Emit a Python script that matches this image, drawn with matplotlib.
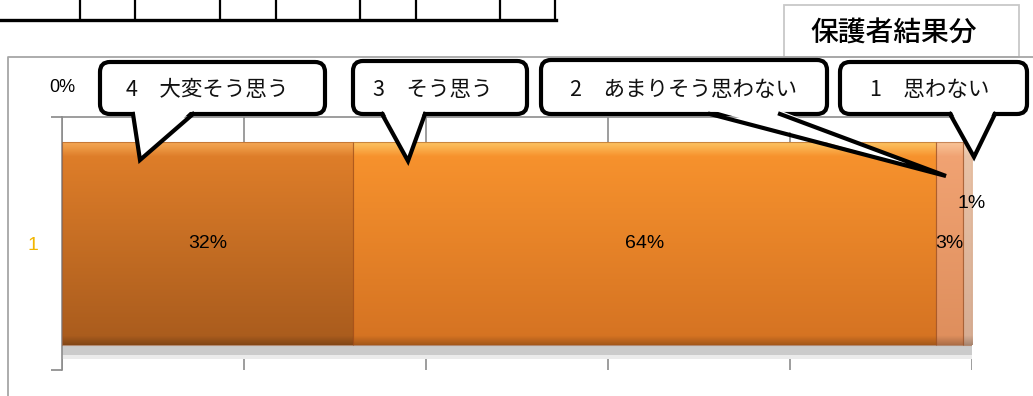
import numpy as np
import matplotlib
matplotlib.use("Agg")
import matplotlib.pyplot as plt
from matplotlib.patches import FancyBboxPatch, Rectangle, Polygon
from matplotlib.lines import Line2D
from matplotlib.colors import to_rgb

# ---------------- data ----------------
title = "保護者結果分"
category = ["1"]
series_names = ["4　大変そう思う", "3　そう思う", "2　あまりそう思わない", "1　思わない"]
values = [32, 64, 3, 1]
value_labels = ["32%", "64%", "3%", "1%"]
x_ticks = [0, 20, 40, 60, 80, 100]
x_tick_labels = ["0%", "20%", "40%", "60%", "80%", "100%"]

# gradient colours per segment: (highlight, top, bottom)
seg_colors = [
    ("#F4A855", "#E2802A", "#A85B1D"),
    ("#FCC463", "#F9942E", "#D47222"),
    ("#F8C498", "#F2A474", "#DE8E5C"),
    ("#F4D8C0", "#EAC4A8", "#D6AC92"),
]

W, H = 1033, 396
fig = plt.figure(figsize=(W / 100, H / 100), dpi=100)
fig.patch.set_facecolor("white")

num_font = ["Liberation Sans", "DejaVu Sans"]
jp_font = ["Noto Sans CJK JP", "DejaVu Sans"]

# ---------------- main chart axes ----------------
left_px, right_px, top_px, bot_px = 62, 972, 117, 370
ax = fig.add_axes([left_px / W, 1 - bot_px / H,
                   (right_px - left_px) / W, (bot_px - top_px) / H])
ax.set_facecolor("none")

bars = ax.barh([0], [values[0]], left=[0], height=0.8, color=seg_colors[0][1],
               edgecolor="none", zorder=2)
patches = list(bars)
cum = values[0]
for v, c in zip(values[1:], seg_colors[1:]):
    b = ax.barh([0], [v], left=[cum], height=0.8, color=c[1], edgecolor="none", zorder=2)
    patches.extend(list(b))
    cum += v

# gradient fills clipped to bars
for p, (hi, top, bot) in zip(patches, seg_colors):
    x0, y0 = p.get_x(), p.get_y()
    w, h = p.get_width(), p.get_height()
    n = 300
    t = np.linspace(0, 1, n)[:, None]
    ctop, cbot, chi = np.array(to_rgb(top)), np.array(to_rgb(bot)), np.array(to_rgb(hi))
    col = ctop[None, :] * (1 - t) + cbot[None, :] * t
    hl = np.clip(1 - t / 0.07, 0, 1)
    col = col * (1 - hl) + chi[None, :] * hl
    dark = np.clip((t - 0.955) / 0.045, 0, 1)
    col = col * (1 - 0.22 * dark)
    img = np.repeat(col[:, None, :], 20, axis=1)
    im = ax.imshow(img, extent=[x0, x0 + w, y0, y0 + h], origin="upper",
                   aspect="auto", zorder=2.5, interpolation="bilinear")
    im.set_clip_path(p)
    ax.add_patch(Rectangle((x0, y0), w, h, fill=False, edgecolor="#9A4A1A",
                           linewidth=0.8, alpha=0.5, zorder=2.6))

# shadow below bars
ax.add_patch(Rectangle((0, -0.44), 100, 0.04, facecolor="#CBCBCB", edgecolor="none", zorder=1.5))
ax.add_patch(Rectangle((0, -0.455), 100, 0.015, facecolor="#EBEBEB", edgecolor="none", zorder=1.5))

ax.set_xlim(0, 100)
ax.set_ylim(-0.5, 0.5)
ax.set_xticks(x_ticks)
# only the first top label is visible in the reference (the rest sit under the callouts)
shown = [lab if i == 0 else "" for i, lab in enumerate(x_tick_labels)]
ax.set_xticklabels(shown, fontsize=13, family=num_font)
ax.tick_params(axis="x", top=True, bottom=False, labeltop=True, labelbottom=False,
               length=0, pad=15)
ax.set_yticks([0])
ax.set_yticklabels(category, fontsize=14, color="#F2B600", family=num_font)
ax.set_yticks([-0.5, 0.5], minor=True)
ax.tick_params(axis="y", which="major", length=0, pad=17)
ax.tick_params(axis="y", which="minor", length=8, color="#888888", width=1.2)
ax.grid(axis="x", color="#8C8C8C", linewidth=1.2, zorder=0)
ax.set_axisbelow(True)
for s in ["right", "bottom"]:
    ax.spines[s].set_visible(False)
for s in ["left", "top"]:
    ax.spines[s].set_color("#8C8C8C")
    ax.spines[s].set_linewidth(1.2)

# value labels
cum = 0
for i, (v, lab) in enumerate(zip(values, value_labels)):
    yoff = 0.16 if i == 3 else 0.0
    xoff = 0.5 if i == 3 else 0.0
    ax.text(cum + v / 2 + xoff, yoff, lab, ha="center", va="center", fontsize=14,
            family=num_font, color="black", zorder=4)
    cum += v

# ---------------- overlay (frame, title, callouts) ----------------
oax = fig.add_axes([0, 0, 1, 1], zorder=5)
oax.set_xlim(0, W)
oax.set_ylim(H, 0)
oax.axis("off")

# table fragment at top
oax.add_line(Line2D([0, 556], [19.5, 19.5], color="black", lw=2.4))
for xv in [80, 135, 220, 276, 360, 416, 500, 555]:
    oax.add_line(Line2D([xv, xv], [0, 19.5], color="black", lw=1.6))

# chart outer border
oax.add_line(Line2D([8, 8, W + 5], [H + 5, 57, 57], color="#A6A6A6", lw=1.3))

# title box
oax.add_patch(Rectangle((784, 5), 235, 52, facecolor="white", edgecolor="#C8C8C8", lw=1.3))
oax.text(894, 33, title, ha="center", va="center", fontsize=20, family=jp_font,
         fontweight="medium", color="black")

# callouts: (x0, y0, x1, y1), base xs, tip, text x
callouts = [
    ((100, 62, 325, 114), (133, 193), (140, 160), 207),
    ((353, 61, 527, 114), (382, 425), (408, 161), 433),
    ((541, 60, 827, 114), (710, 780), (946, 176), 683),
    ((840, 62, 1027, 114), (950, 995), (974, 157), 930),
]
lw = 3.0
for (bx0, by0, bx1, by1), (b1, b2), (tx, ty), txc in callouts:
    oax.add_patch(FancyBboxPatch((bx0, by0), bx1 - bx0, by1 - by0,
                                 boxstyle="round,pad=0,rounding_size=10",
                                 facecolor="white", edgecolor="black", lw=lw, zorder=2))
    oax.add_patch(Polygon([(b1 + 1, by1 - 4), (b2 - 1, by1 - 4), (tx, ty)], closed=True,
                          facecolor="white", edgecolor="none", zorder=3))
    oax.add_line(Line2D([b1, tx, b2], [by1, ty, by1], color="black", lw=lw,
                        solid_joinstyle="miter", zorder=4))

for name, ((bx0, by0, bx1, by1), _, _, txc) in zip(series_names, callouts):
    oax.text(txc, 90, name, ha="center", va="center", fontsize=15.5,
             family=jp_font, fontweight="normal", color="#111111", zorder=5)

fig.savefig("out.png", dpi=100)
